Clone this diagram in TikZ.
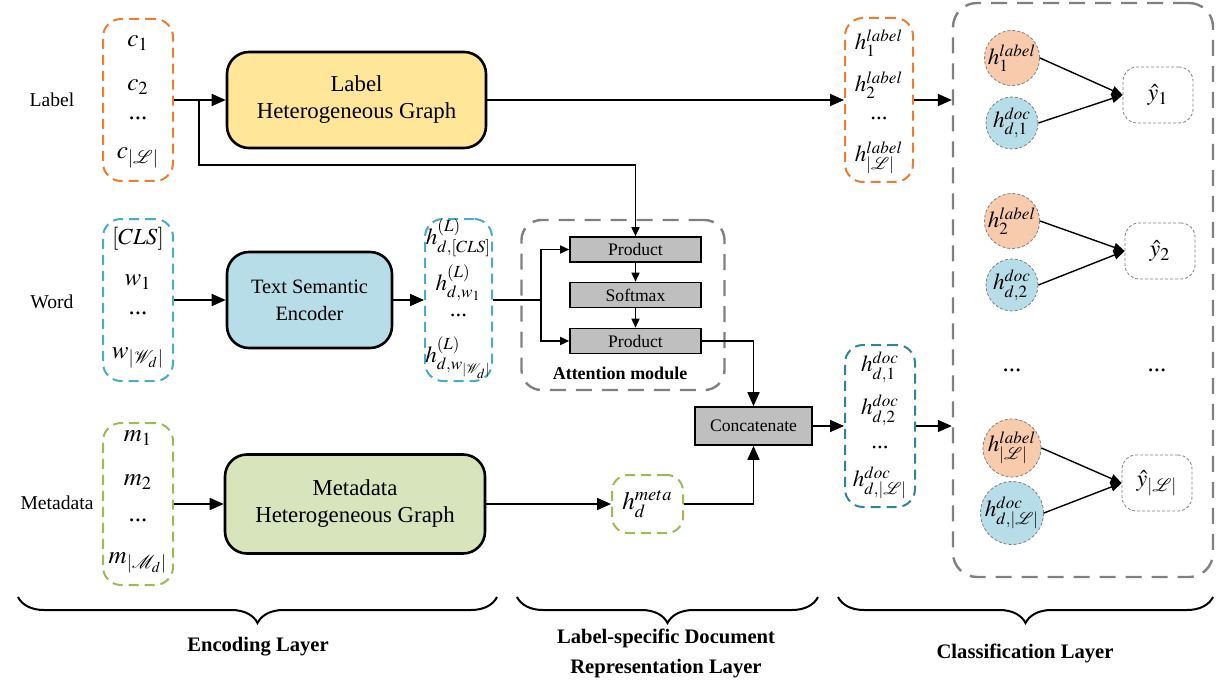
\documentclass[tikz,border=0pt]{standalone}
\usepackage{mathptmx}
\usepackage{fontspec}
\setmainfont{Liberation Serif}
\usetikzlibrary{arrows.meta,decorations.pathreplacing}
\definecolor{corange}{HTML}{ED7D31}
\definecolor{cblue}{HTML}{4BACC6}
\definecolor{cteal}{HTML}{31849B}
\definecolor{cgreen}{HTML}{9BBB59}
\definecolor{cgray}{HTML}{808080}
\definecolor{fyellow}{HTML}{FFE699}
\definecolor{fblue}{HTML}{B7DDE8}
\definecolor{fgreen}{HTML}{D8E4BC}
\definecolor{fgraybox}{HTML}{BFBFBF}
\definecolor{forange}{HTML}{F8CBAD}
\begin{document}
\begin{tikzpicture}[x=0.5pt,y=-0.5pt,
  colbox/.style={draw=#1, line width=1pt, dash pattern=on 5pt off 3pt, rounded corners=9pt, minimum width=35pt, minimum height=81pt, inner sep=0pt},
  mainbox/.style={draw=black, line width=1.3pt, fill=#1, rounded corners=11pt, align=center, font=\fontsize{11.4}{13.5}\selectfont, inner sep=0pt},
  graybox/.style={draw=black, line width=0.8pt, fill=fgraybox, minimum width=65.5pt, minimum height=12.5pt, inner sep=0pt, font=\fontsize{8.8}{10}\selectfont},
  bigdash/.style={draw=cgray, line width=1.2pt, dash pattern=on 8pt off 5pt, rounded corners=12pt, inner sep=0pt},
  side/.style={font=\fontsize{9.8}{11}\selectfont},
  item/.style={font=\fontsize{12.5}{13}\selectfont, inner sep=0pt},
  hitem/.style={font=\fontsize{11.5}{12}\selectfont, inner sep=0pt},
  circ/.style={circle, draw=cgray, line width=0.4pt, dash pattern=on 1.5pt off 1pt, minimum size=26pt, inner sep=0pt, fill=#1, font=\fontsize{11.5}{12}\selectfont},
  ybox/.style={draw=cgray, line width=0.4pt, dash pattern=on 1.5pt off 1pt, rounded corners=7pt, minimum width=35pt, minimum height=28pt, inner sep=0pt, font=\fontsize{12}{12}\selectfont},
  arr/.style={line width=0.8pt, -{Triangle[length=7pt,width=6pt]}},
  sarr/.style={line width=0.7pt, -{Triangle[length=4.5pt,width=4pt]}},
  carr/.style={line width=0.7pt, -{Triangle[length=5.5pt,width=4.5pt]}},
  plain/.style={line width=0.8pt},
  brc/.style={decorate, decoration={brace, mirror, amplitude=13pt}, line width=1pt},
  layer/.style={font=\bfseries\fontsize{10.3}{15}\selectfont, align=center}
]
\useasboundingbox (0,0) rectangle (1218,684);

% side labels
\node[side] (tlabel) at (52,100) {Label};
\node[side] (tword) at (52,302) {Word};
\node[side] (tmeta) at (57,503) {Metadata};

% input columns
\node[colbox=corange] (lcol) at (138,100) {};
\node[item] (c1) at (138,43) {$c_1$};
\node[item] (c2) at (138,87) {$c_2$};
\node[item] (c3) at (138,118) {...};
\node[item] (c4) at (138,158) {$c_{|\mathcal{L}|}$};

\node[colbox=cblue] (wcol) at (138,300) {};
\node[hitem] (w0) at (138,239) {$[CLS]$};
\node[item] (w1) at (138,282) {$w_1$};
\node[item] (w2) at (138,313) {...};
\node[item] (w3) at (138,358) {$w_{|\mathcal{W}_d|}$};

\node[colbox=cgreen] (mcol) at (138,504) {};
\node[item] (m1) at (138,438) {$m_1$};
\node[item] (m2) at (138,482) {$m_2$};
\node[item] (m3) at (138,520) {...};
\node[item] (m4) at (138,563) {$m_{|\mathcal{M}_d|}$};

% main boxes
\node[mainbox=fyellow, minimum width=129.5pt, minimum height=48pt] (lhg) at (356.5,100) {Label\\Heterogeneous Graph};
\node[mainbox=fblue, minimum width=82.5pt, minimum height=48pt, font=\fontsize{10.2}{13.5}\selectfont] (tse) at (309.5,300) {Text Semantic\\Encoder};
\node[mainbox=fgreen, minimum width=130pt, minimum height=49.5pt] (mhg) at (355,504) {Metadata\\Heterogeneous Graph};

% h^(L) column
\node[colbox=cblue, minimum width=33.5pt] (hlcol) at (458.5,300) {};
\node[hitem] (hl0) at (458.5,238) {$h^{(L)}_{d,[CLS]}$};
\node[hitem] (hl1) at (458.5,283) {$h^{(L)}_{d,w_1}$};
\node[hitem] (hl2) at (458.5,315) {...};
\node[hitem] (hl3) at (458.5,358) {$h^{(L)}_{d,w_{|\mathcal{W}_d|}}$};

% attention module
\node[bigdash, rounded corners=10pt, minimum width=101.5pt, minimum height=85pt] (att) at (623,305) {};
\node[font=\bfseries\fontsize{9}{10}\selectfont] (attl) at (620,373) {Attention module};
\node[graybox] (p1) at (635.5,249.5) {Product};
\node[graybox] (sm) at (635.5,295) {Softmax};
\node[graybox] (p2) at (635.5,341) {Product};

% concatenate and meta
\node[graybox, minimum width=58.5pt, minimum height=19pt] (cat) at (753.5,426) {Concatenate};
\node[colbox=cgreen, minimum width=35.5pt, minimum height=29pt, rounded corners=8pt] (hmeta) at (647.5,504) {};
\node[item] (hm) at (647.5,504) {$h_d^{meta}$};

% h^doc column
\node[colbox=cteal] (hdcol) at (880,426) {};
\node[hitem] (hd1) at (880,367) {$h^{doc}_{d,1}$};
\node[hitem] (hd2) at (880,410) {$h^{doc}_{d,2}$};
\node[hitem] (hd3) at (880,447) {...};
\node[hitem] (hd4) at (880,483) {$h^{doc}_{d,|\mathcal{L}|}$};

% h^label column
\node[colbox=corange, minimum width=34pt, minimum height=82pt] (hlab) at (879,100) {};
\node[hitem] (hb1) at (879,43) {$h^{label}_1$};
\node[hitem] (hb2) at (879,85) {$h^{label}_2$};
\node[hitem] (hb3) at (879,118) {...};
\node[hitem] (hb4) at (879,158) {$h^{label}_{|\mathcal{L}|}$};

% classification layer
\node[bigdash, minimum width=130pt, minimum height=287pt] (cls) at (1083,290) {};
\node[circ=forange] (a1) at (1012,58) {$h^{label}_1$};
\node[circ=fblue] (b1) at (1012,123) {$h^{doc}_{d,1}$};
\node[ybox] (y1) at (1158,95) {$\hat{y}_1$};
\node[circ=forange] (a2) at (1012,221) {$h^{label}_2$};
\node[circ=fblue] (b2) at (1012,285) {$h^{doc}_{d,2}$};
\node[ybox] (y2) at (1160,251) {$\hat{y}_2$};
\node[item] (dl) at (1012,370) {...};
\node[item] (dr) at (1157,370) {...};
\node[circ=forange] (a3) at (1012,448) {$h^{label}_{|\mathcal{L}|}$};
\node[circ=fblue] (b3) at (1012,513) {$h^{doc}_{d,|\mathcal{L}|}$};
\node[ybox] (y3) at (1157,483) {$\hat{y}_{|\mathcal{L}|}$};

% connectors
\draw[arr] (lcol.east) -- (lhg.west);
\coordinate (br1) at (199,100);
\coordinate (br2) at (199,165);
\draw[sarr, line width=0.8pt] (br1) -- (br2) -| (p1.north);
\draw[arr] (wcol.east) -- (tse.west);
\draw[arr] (tse.east) -- (hlcol.west);
\coordinate (sp) at (541,300);
\draw[plain] (hlcol.east) -- (sp);
\draw[sarr] (sp) |- (p1.west);
\draw[sarr] (sp) |- (p2.west);
\draw[sarr] (p1) -- (sm);
\draw[sarr] (sm) -- (p2);
\draw[arr] (p2.east) -| (cat.north);
\draw[arr] (mcol.east) -- (mhg.west);
\draw[arr] (mhg.east) -- (hmeta.west);
\draw[arr] (hmeta.east) -| (cat.south);
\draw[arr] (cat.east) -- (hdcol.west);
\draw[arr] (lhg.east) -- (hlab.west);
\draw[arr] (hlab.east) -- (cls.west |- hlab.east);
\draw[arr] (hdcol.east) -- (cls.west |- hdcol.east);
\draw[carr] (a1.east) -- (y1.west);
\draw[carr] (b1.east) -- (y1.west);
\draw[carr] (a2.east) -- (y2.west);
\draw[carr] (b2.east) -- (y2.west);
\draw[carr] (a3.east) -- (y3.west);
\draw[carr] (b3.east) -- (y3.west);

% braces
\coordinate (e1) at (18,597);
\coordinate (e2) at (497,597);
\draw[brc] (e1) -- (e2);
\node[layer] (enc) at (258,647) {Encoding Layer};
\coordinate (l1) at (517,597);
\coordinate (l2) at (818,597);
\draw[brc] (l1) -- (l2);
\node[layer] (lsd) at (666,653) {Label-specific Document\\Representation Layer};
\coordinate (k1) at (838,597);
\coordinate (k2) at (1213,597);
\draw[brc] (k1) -- (k2);
\node[layer] (clsl) at (1025,653) {Classification Layer};
\end{tikzpicture}
\end{document}
